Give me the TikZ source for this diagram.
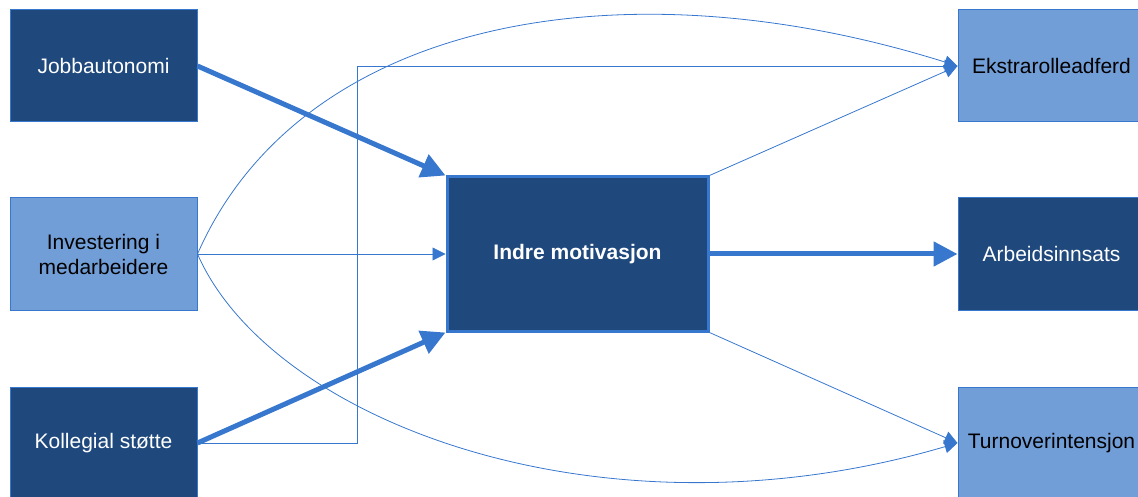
\documentclass[tikz,border=0pt]{standalone}
\usepackage{fontspec}
\setmainfont{Liberation Sans}
\usepackage{tikz}
\usetikzlibrary{arrows.meta}

\definecolor{darkbox}{RGB}{31,73,125}
\definecolor{lightbox}{RGB}{114,158,216}
\definecolor{linkblue}{RGB}{55,119,206}

\tikzset{
  varbox/.style={draw=linkblue, line width=1pt, minimum width=187pt,
                 minimum height=112pt, inner sep=0pt, align=center,
                 font=\fontsize{21}{25}\selectfont},
  darkvar/.style={varbox, fill=darkbox, text=white},
  lightvar/.style={varbox, fill=lightbox, text=black},
  thicklink/.style={linkblue, line width=5pt, -{Triangle[length=24pt,width=24pt]}},
  thinlink/.style={linkblue, line width=0.8pt, -{Triangle[length=13pt,width=13pt]}},
  plainlink/.style={linkblue, line width=0.8pt}
}

\begin{document}
\begin{tikzpicture}[x=1pt, y=-1pt]
        \useasboundingbox (0,0) rectangle (1138,497);                      %
        % left column
        \node [darkvar]  (job) at (103.5,66)  {Jobbautonomi};              %
        \node [lightvar] (inv) at (103.5,254) {Investering i\\medarbeidere};%
        \node [darkvar]  (kol) at (103.5,443) {Kollegial støtte};          %
        % middle
        \node [darkvar, draw=linkblue, line width=3pt, minimum width=261pt,
               minimum height=154pt, font=\fontsize{21}{25}\selectfont\bfseries]
                         (ind) at (577.5,254) {Indre motivasjon};           %
        % right column
        \node [lightvar] (eks) at (1051.5,66)  {Ekstrarolleadferd};        %
        \node [darkvar]  (arb) at (1051.5,254) {Arbeidsinnsats};           %
        \node [lightvar] (tur) at (1051.5,443) {Turnoverintensjon};        %

        \coordinate (bend) at (357,66);                                    %
        \draw [plainlink] (kol.east) -| (bend);                            %
        \draw [thinlink]  (bend) -- (eks.west);                            %
        \draw [thinlink]  (inv.east) .. controls (300,20) and (620,-40) .. (eks.west);  %
        \draw [thinlink]  (inv.east) .. controls (270,420) and (600,548) .. (tur.west); %
        \draw [thinlink]  (inv.east) -- (ind.west);                        %
        \draw [thinlink]  (ind.north east) -- (eks.west);                  %
        \draw [thinlink]  (ind.south east) -- (tur.west);                  %

        \draw [thicklink] (job.east) -- (ind.north west);                  %
        \draw [thicklink] (kol.east) -- (ind.south west);                  %
        \draw [thicklink] (ind.east) -- (arb.west);                        %
      \end{tikzpicture}
\end{document}
